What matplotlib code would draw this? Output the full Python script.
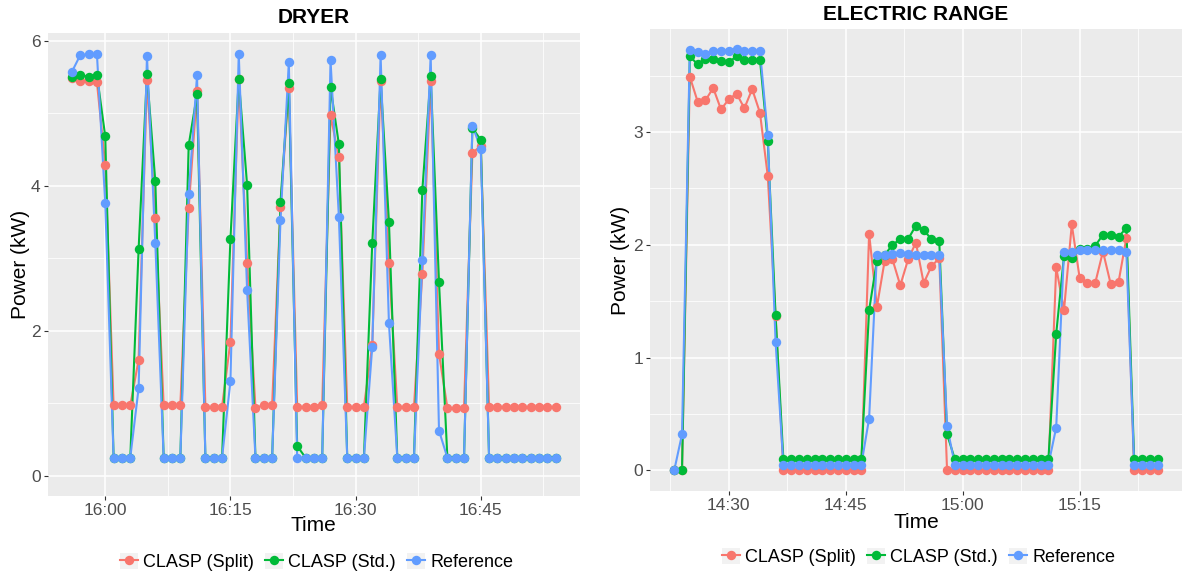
import pandas as pd
import matplotlib
matplotlib.use("Agg")
import matplotlib.pyplot as plt
import matplotlib.dates as mdates
from matplotlib.lines import Line2D
from matplotlib.patches import Patch
from matplotlib.legend_handler import HandlerTuple
from matplotlib.ticker import FixedLocator

plt.rcParams["font.family"] = ["Liberation Sans", "DejaVu Sans"]

SERIES = ["CLASP (Split)", "CLASP (Std.)", "Reference"]
COLORS = ["#F8766D", "#00BA38", "#619CFF"]
DAY = "2016-01-01"

# Dryer, one sample per minute from 15:56
dryer_start = "15:56"
dryer_split = [5.49, 5.45, 5.45, 5.43, 4.29, 0.97, 0.97, 0.97, 1.60, 5.46,
               3.56, 0.97, 0.97, 0.97, 3.69, 5.30, 0.95, 0.95, 0.95, 1.85,
               5.47, 2.94, 0.94, 0.97, 0.97, 3.71, 5.35, 0.95, 0.95, 0.95,
               0.97, 4.97, 4.39, 0.95, 0.95, 0.95, 1.80, 5.45, 2.94, 0.95,
               0.95, 0.95, 2.78, 5.44, 1.68, 0.94, 0.93, 0.94, 4.45, 4.55,
               0.95, 0.95, 0.95, 0.95, 0.95, 0.95, 0.95, 0.95, 0.95]
dryer_std = [5.50, 5.53, 5.50, 5.53, 4.68, 0.25, 0.25, 0.25, 3.13, 5.54,
             4.06, 0.25, 0.25, 0.25, 4.56, 5.26, 0.25, 0.25, 0.25, 3.26,
             5.47, 4.01, 0.25, 0.25, 0.25, 3.77, 5.41, 0.41, 0.25, 0.25,
             0.25, 5.36, 4.57, 0.25, 0.25, 0.25, 3.21, 5.47, 3.50, 0.25,
             0.25, 0.25, 3.94, 5.51, 2.67, 0.25, 0.25, 0.25, 4.80, 4.63,
             0.25, 0.25, 0.25, 0.25, 0.25, 0.25, 0.25, 0.25, 0.25]
dryer_ref = [5.57, 5.80, 5.81, 5.82, 3.76, 0.25, 0.25, 0.25, 1.21, 5.79,
             3.21, 0.25, 0.25, 0.25, 3.89, 5.52, 0.25, 0.25, 0.25, 1.30,
             5.82, 2.56, 0.25, 0.25, 0.25, 3.52, 5.70, 0.25, 0.25, 0.25,
             0.25, 5.73, 3.57, 0.25, 0.25, 0.25, 1.78, 5.80, 2.10, 0.25,
             0.25, 0.25, 2.97, 5.80, 0.62, 0.25, 0.25, 0.25, 4.83, 4.51,
             0.25, 0.25, 0.25, 0.25, 0.25, 0.25, 0.25, 0.25, 0.25]
dryer_ticks = ["16:00", "16:15", "16:30", "16:45"]
dryer_yticks = [0, 2, 4, 6]

# Electric range, one sample per minute from 14:23
range_start = "14:23"
range_split = [0.00, 0.00, 3.49, 3.27, 3.28, 3.39, 3.20, 3.29, 3.34, 3.21,
               3.38, 3.17, 2.61, 1.37, 0.00, 0.00, 0.00, 0.00, 0.00, 0.00,
               0.00, 0.00, 0.00, 0.00, 0.00, 2.10, 1.45, 1.86, 1.87, 1.64,
               1.87, 2.02, 1.66, 1.81, 1.88, 0.00, 0.00, 0.00, 0.00, 0.00,
               0.00, 0.00, 0.00, 0.00, 0.00, 0.00, 0.00, 0.00, 0.00, 1.80,
               1.42, 2.18, 1.71, 1.66, 1.66, 1.94, 1.65, 1.67, 2.06, 0.00,
               0.00, 0.00, 0.00]
range_std = [0.00, 0.00, 3.67, 3.60, 3.65, 3.65, 3.63, 3.62, 3.67, 3.64,
             3.64, 3.64, 2.92, 1.38, 0.10, 0.10, 0.10, 0.10, 0.10, 0.10,
             0.10, 0.10, 0.10, 0.10, 0.10, 1.42, 1.86, 1.91, 2.00, 2.05,
             2.05, 2.17, 2.13, 2.05, 2.03, 0.32, 0.10, 0.10, 0.10, 0.10,
             0.10, 0.10, 0.10, 0.10, 0.10, 0.10, 0.10, 0.10, 0.10, 1.21,
             1.90, 1.88, 1.96, 1.96, 1.99, 2.09, 2.09, 2.07, 2.15, 0.10,
             0.10, 0.10, 0.10]
range_ref = [0.00, 0.32, 3.73, 3.71, 3.69, 3.72, 3.72, 3.72, 3.74, 3.72,
             3.72, 3.72, 2.97, 1.14, 0.05, 0.05, 0.05, 0.05, 0.05, 0.05,
             0.05, 0.05, 0.05, 0.05, 0.05, 0.46, 1.91, 1.91, 1.92, 1.93,
             1.92, 1.91, 1.91, 1.91, 1.91, 0.39, 0.05, 0.05, 0.05, 0.05,
             0.05, 0.05, 0.05, 0.05, 0.05, 0.05, 0.05, 0.05, 0.05, 0.38,
             1.94, 1.94, 1.95, 1.95, 1.95, 1.95, 1.95, 1.95, 1.94, 0.05,
             0.05, 0.05, 0.05]
range_ticks = ["14:30", "14:45", "15:00", "15:15"]
range_yticks = [0, 1, 2, 3]


def draw_panel(ax, title, start, series, ticks, yticks, ylim, title_pad, ylab_x, xlab_y, leg_y):
    times = pd.date_range(f"{DAY} {start}", periods=len(series[0]), freq="min")
    x = mdates.date2num(times)

    ax.set_facecolor("#EBEBEB")
    for s in ax.spines.values():
        s.set_visible(False)

    for vals, col in zip(series, COLORS):
        ax.plot(x, vals, color=col, linewidth=1.5, zorder=2)
    for vals, col in zip(series, COLORS):
        ax.plot(x, vals, linestyle="none", marker="o", markersize=6.8,
                markerfacecolor=col, markeredgewidth=0, zorder=3)

    major = mdates.date2num(pd.to_datetime([f"{DAY} {t}" for t in ticks]))
    half = 7.5 / 1440
    minor = [m - half for m in major] + [major[-1] + half]
    ax.xaxis.set_major_locator(FixedLocator(major))
    ax.xaxis.set_minor_locator(FixedLocator(minor))
    ax.xaxis.set_major_formatter(mdates.DateFormatter("%H:%M"))
    step = yticks[1] - yticks[0]
    ax.yaxis.set_major_locator(FixedLocator(yticks))
    ax.yaxis.set_minor_locator(FixedLocator([v + step / 2 for v in yticks]))

    # ggplot style 5% expansion of the time range
    pad = (x[-1] - x[0]) * 0.05
    ax.set_xlim(x[0] - pad, x[-1] + pad)
    ax.set_ylim(*ylim)

    ax.grid(True, which="major", color="white", linewidth=1.1)
    ax.grid(True, which="minor", color="white", linewidth=0.55)
    ax.set_axisbelow(True)
    ax.tick_params(which="major", length=3, width=0.8, color="#333333",
                   labelcolor="#4D4D4D", labelsize=12.5, pad=2)
    ax.tick_params(which="minor", length=0)

    ax.set_title(title, fontsize=15, fontweight="bold", pad=title_pad)
    ax.set_xlabel("Time", fontsize=15)
    ax.set_ylabel("Power (kW)", fontsize=15)
    ax.xaxis.set_label_coords(0.5, xlab_y)
    ax.yaxis.set_label_coords(ylab_x, 0.5)

    handles = [(Patch(facecolor="#F2F2F2", edgecolor="none"),
                Line2D([], [], color=c, linewidth=1.5, marker="o", markersize=6.8,
                       markeredgewidth=0)) for c in COLORS]
    ax.legend(handles, SERIES, loc="center", bbox_to_anchor=(0.505, leg_y), ncol=3,
              frameon=False, fontsize=13, handler_map={tuple: HandlerTuple(ndivide=1)},
              handlelength=1.0, handleheight=1.0, handletextpad=0.3, columnspacing=0.6)


fig = plt.figure(figsize=(11.83, 5.75), dpi=100)
ax1 = fig.add_axes([0.0403, 0.1374, 0.4500, 0.8057])
ax2 = fig.add_axes([0.5495, 0.1466, 0.4494, 0.8024])

draw_panel(ax1, "DRYER", dryer_start, [dryer_split, dryer_std, dryer_ref],
           dryer_ticks, dryer_yticks, (-0.28, 6.11), 7, -0.033, -0.043, -0.142)
draw_panel(ax2, "ELECTRIC RANGE", range_start, [range_split, range_std, range_ref],
           range_ticks, range_yticks, (-0.18, 3.91), 6.5, -0.038, -0.048, -0.144)

fig.savefig("out.png", dpi=100)
